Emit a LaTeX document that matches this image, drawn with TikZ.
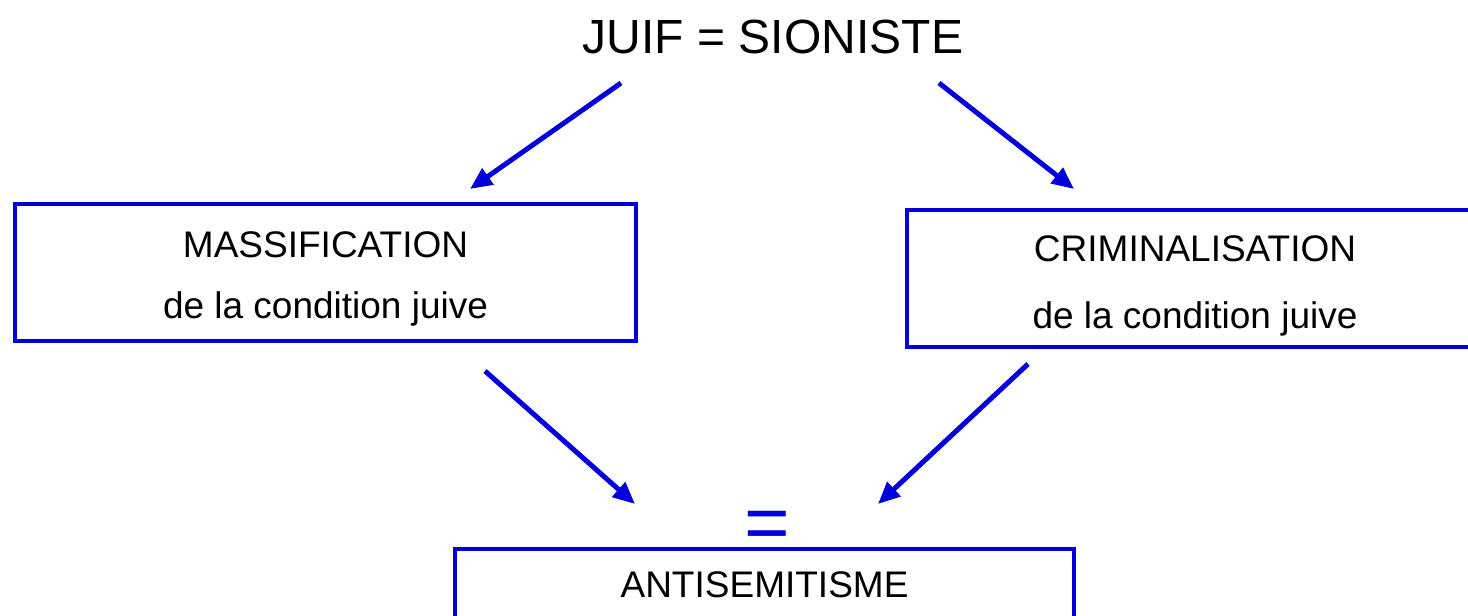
\documentclass[tikz,border=0pt]{standalone}
\usepackage{fontspec}
\setmainfont{Liberation Sans}
\usetikzlibrary{arrows.meta}
\definecolor{dblue}{RGB}{0,0,220}
\begin{document}
\begin{tikzpicture}[x=1pt,y=1pt,
  boxnode/.style={draw=dblue, line width=4pt, rectangle, inner sep=0pt, align=center},
  conn/.style={draw=dblue, line width=5pt, -{Triangle[length=22pt,width=19pt]}}]
\useasboundingbox (0,0) rectangle (1468,-616);
\fill[white] (0,0) rectangle (1468,-616);
\node (title) at (773,-37) {\fontsize{48}{56}\selectfont JUIF = SIONISTE};
\node[boxnode, minimum width=621pt, minimum height=137pt, font=\fontsize{37}{61}\selectfont] (mass) at (325.5,-272.5) {\rule{0pt}{38pt}MASSIFICATION\\de la condition juive};
\node[boxnode, minimum width=576pt, minimum height=137pt, font=\fontsize{37}{67}\selectfont] (crim) at (1195,-278.5) {\rule{0pt}{41pt}CRIMINALISATION\\de la condition juive};
\node[boxnode, minimum width=619pt, minimum height=72pt, font=\fontsize{37}{61}\selectfont] (anti) at (764.5,-585) {ANTISEMITISME};
\node[text=dblue, font=\fontsize{78}{80}\selectfont] (eq) at (767,-530) {=};
\coordinate (a1s) at (621,-83);
\coordinate (a1e) at (470,-189);
\coordinate (a2s) at (939,-83);
\coordinate (a2e) at (1074,-189);
\coordinate (a3s) at (485,-371);
\coordinate (a3e) at (635,-504);
\coordinate (a4s) at (1028,-364);
\coordinate (a4e) at (878,-504);
\draw[conn] (a1s) -- (a1e);
\draw[conn] (a2s) -- (a2e);
\draw[conn] (a3s) -- (a3e);
\draw[conn] (a4s) -- (a4e);
\end{tikzpicture}
\end{document}
